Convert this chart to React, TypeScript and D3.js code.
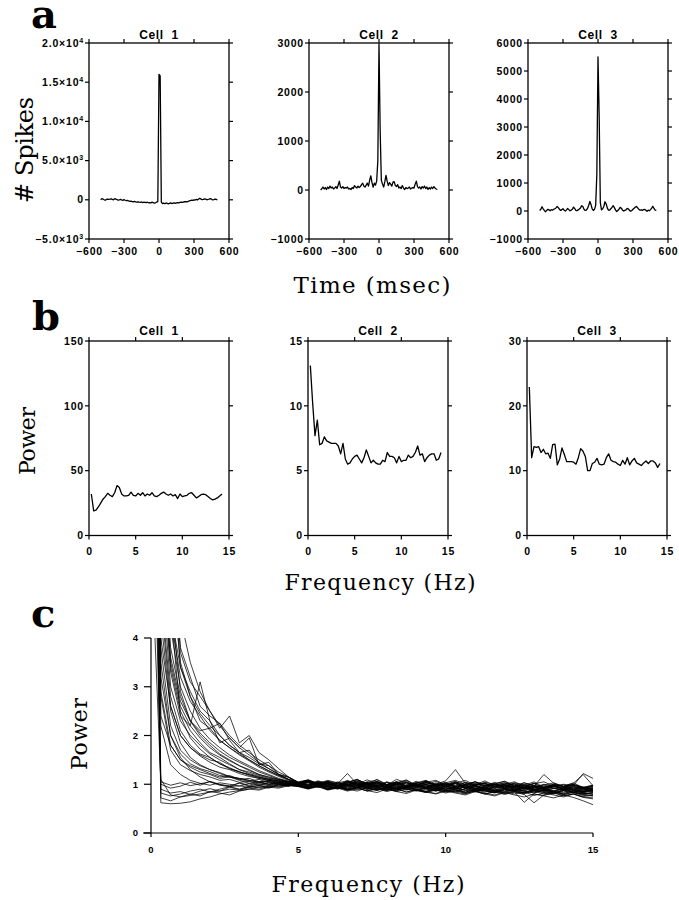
import React from "react";
import * as d3 from "d3";

// ---------- DATA ----------
const TIME_MS = d3.range(-500, 501, 10);
const CELL_NAMES = ["Cell 1", "Cell 2", "Cell 3"];
const TIME_TICKS = [-600, -300, 0, 300, 600];
const FREQ_TICKS = [0, 5, 10, 15];

const CELL1_CCG = [
  0, 150, 100, 0, -50, 50, 100, 50, 80, 120,
  50, 0, 150, 80, 20, -50, 0, 60, -20, -80,
  20, -60, -120, -80, -150, -200, -160, -220, -250, -200,
  -260, -300, -250, -300, -320, -280, -350, -300, -330, -360,
  -310, -380, -350, -400, -300, -350, -420, -380, -300, -200,
  16000, 15800, -300, -480, -420, -500, -400, -450, -520, -460,
  -400, -480, -420, -380, -450, -400, -350, -380, -320, -300,
  -340, -280, -250, -220, -260, -200, -150, -100, -50, -80,
  0, -30, 50, -20, 100, 200, 80, 20, 60, 120,
  80, 0, 40, 100, 150, 80, -20, 30, 100, 60,
  0,
];
const CELL2_CCG = [
  0, 30, 60, 20, 50, 10, 60, 30, 80, 40,
  60, 20, 40, 70, 30, 100, 180, 60, 40, 70,
  30, 50, 40, 60, 20, 30, 10, 50, 30, 90,
  60, 40, 80, 50, 70, 110, 140, 80, 60, 100,
  140, 80, 200, 290, 150, 60, 140, 100, 180, 600,
  2980, 1200, 200, 120, 60, 170, 300, 180, 90, 150,
  120, 80, 160, 170, 90, 70, 110, 40, 60, 30,
  90, 40, 10, 50, 30, 40, 60, 20, 40, 50,
  40, 120, 180, 70, 40, 60, 20, 70, 40, 80,
  30, 60, 10, 50, 20, 60, 30, 70, 40, 20,
  10,
];
const CELL3_CCG = [
  20, 60, 150, 80, 20, -30, 20, 60, 40, 10,
  50, 30, 60, 80, 110, 160, 120, 60, 20, 50,
  80, 30, 0, 40, 90, 50, 10, 30, 60, 140,
  90, 20, 10, 40, 70, 110, 190, 160, 60, 20,
  30, 90, 200, 340, 230, 80, 20, 60, 200, 1300,
  5500, 3400, 300, 40, 80, 160, 330, 260, 100, 30,
  30, 80, 130, 190, 120, 40, -20, 20, 60, 130,
  100, 30, 0, 20, 40, 90, 80, 20, -10, 20,
  60, 100, 140, 160, 110, 60, 30, 40, 20, 50,
  60, 30, -10, 30, 10, 50, 100, 170, 90, 30,
  20,
];
const CELL1_CCG_TICKS = [-5000, 0, 5000, 10000, 15000, 20000];
const CELL2_CCG_TICKS = [-1000, 0, 1000, 2000, 3000];
const CELL3_CCG_TICKS = [-1000, 0, 1000, 2000, 3000, 4000, 5000, 6000];

const FREQ_B = d3.range(1, 58).map((k) => k * 0.25);
const CELL1_POWER = [
  32, 19, 19.5, 22, 25, 28, 30, 32.5, 31, 30,
  33, 38.5, 37, 32, 30.5, 30.5, 31, 33.5, 31, 30.5,
  32.5, 31, 33, 30.5, 32, 31, 33, 30.5, 30, 31,
  32.5, 33.5, 32, 31, 32, 30.5, 31.5, 28.5, 32, 30,
  30.5, 31, 32.5, 33, 31, 29, 30, 31.5, 32, 31.5,
  30, 28.5, 27.5, 28, 29, 30.5, 32,
];
const CELL2_POWER = [
  13.1, 10.2, 7.7, 8.9, 7.0, 7.1, 7.6, 7.3, 7.2, 7.1,
  7.1, 7.1, 6.9, 6.3, 7.1, 5.9, 5.5, 5.6, 5.9, 6.1,
  6.2, 5.9, 5.6, 6.0, 6.6, 6.1, 5.6, 5.8, 5.6, 5.5,
  5.5, 5.8, 5.7, 6.4, 6.1, 6.1, 6.0, 5.6, 6.1, 5.7,
  5.8, 5.8, 6.2, 6.0, 6.1, 6.4, 6.9, 6.2, 6.3, 5.7,
  6.0, 6.2, 6.3, 6.3, 5.8, 5.9, 6.4,
];
const CELL3_POWER = [
  22.9, 12.0, 13.7, 13.6, 13.7, 12.8, 13.3, 12.6, 12.7, 11.9,
  14.0, 14.1, 10.9, 11.8, 13.5, 12.5, 11.4, 11.4, 11.4, 11.3,
  11.0, 12.0, 13.4, 13.0, 12.2, 10.0, 10.0, 11.1, 11.3, 11.9,
  11.0, 10.9, 11.0, 12.0, 12.6, 11.6, 11.4, 11.3, 11.0, 10.8,
  11.6, 11.0, 12.0, 10.9, 11.5, 11.9, 11.2, 11.0, 10.8, 11.2,
  11.5, 11.1, 11.5, 11.5, 11.2, 10.5, 11.1,
];
const CELL1_POWER_TICKS = [0, 50, 100, 150];
const CELL2_POWER_TICKS = [0, 5, 10, 15];
const CELL3_POWER_TICKS = [0, 10, 20, 30];

const FREQ_C = d3.range(0, 46).map((k) => k / 3);
const POP_POWER_TICKS = [0, 1, 2, 3, 4];
const POP_SPECTRA = [
  [14,0.62,0.6,0.61,0.64,0.7,0.74,0.8,0.84,0.87,0.9,0.88,0.94,0.92,0.97,
   0.98,0.93,0.97,0.9,0.95,0.88,0.93,0.97,0.89,0.92,0.86,0.94,0.9,0.85,0.91,0.87,0.93,0.84,0.89,0.86,0.82,0.9,0.85,0.8,0.88,0.83,0.86,0.79,0.84,0.8,0.76],
  [22,0.72,0.66,0.74,0.8,0.76,0.85,0.82,0.78,0.86,0.9,0.95,0.92,0.99,0.96,
   1.02,0.96,1.04,0.97,0.92,1.0,0.95,1.03,0.93,0.98,0.91,0.96,1.02,0.94,0.89,0.97,0.93,0.99,0.9,0.95,0.88,0.96,0.92,0.87,0.94,0.9,0.86,0.93,0.88,0.84,0.9],
  [9,1.0,0.92,0.96,1.04,0.98,1.06,1.0,0.95,1.03,0.98,1.05,0.99,1.04,0.97,
   1.03,1.08,0.99,1.06,1.01,0.96,1.05,0.99,1.1,1.0,1.04,0.95,1.02,1.07,0.97,1.01,0.94,1.0,1.05,0.96,0.99,1.03,0.94,0.98,0.92,1.0,0.96,0.91,0.98,0.94,0.9],
  [26,2.9,1.8,1.5,1.38,1.3,1.22,1.15,1.18,1.1,1.06,1.1,1.03,1.05,1.0,
   0.99,0.94,1.0,0.95,0.91,0.97,0.93,0.99,0.9,0.95,0.88,0.94,0.97,0.9,0.86,0.93,0.89,0.95,0.87,0.91,0.85,0.92,0.88,0.83,0.9,0.86,0.82,0.89,0.84,0.8,0.83],
  [30,4.8,2.6,2.0,1.75,1.6,1.5,1.45,1.32,1.25,1.2,1.14,1.1,1.06,1.04,
   1.01,1.06,0.98,1.03,0.95,1.0,1.05,0.97,1.02,0.94,0.99,1.04,0.96,0.92,1.0,0.95,1.03,0.93,0.98,0.9,0.96,1.0,0.92,0.97,0.89,0.94,0.99,0.9,0.95,0.87,0.92],
  [18,3.2,2.0,1.55,1.3,1.15,1.05,0.98,0.95,0.97,0.93,0.98,0.95,0.99,0.97,
   0.96,1.0,0.93,0.97,0.91,0.95,0.99,0.92,0.88,0.94,0.9,0.96,0.87,0.92,0.95,0.89,0.85,0.91,0.94,0.87,0.83,0.9,0.86,0.92,0.84,0.88,0.82,0.87,0.91,0.83,0.86],
  [40,6.0,3.4,2.5,2.1,1.85,1.65,1.55,1.42,1.3,1.25,1.18,1.12,1.1,1.05,
   1.02,1.08,1.01,1.05,0.98,1.04,1.1,1.0,1.06,0.99,1.03,1.09,0.98,1.04,1.0,1.07,1.3,1.02,0.97,1.04,1.0,0.95,1.03,0.98,1.05,0.94,1.0,0.96,1.03,0.93,0.98],
  [40,8,4.6,2.4,2.2,3.1,2.3,1.85,1.95,1.75,1.95,1.4,1.45,1.2,1.15,
   1.04,0.98,1.05,1.0,0.95,1.02,1.07,0.97,1.03,0.93,1.0,1.06,0.96,1.02,0.94,0.99,1.04,0.93,0.98,1.02,0.92,0.97,1.01,0.91,0.96,0.89,0.95,0.99,0.9,0.94,0.88],
  [60,10,6,3.4,2.9,2.5,2.3,2.0,1.8,1.65,1.5,1.38,1.27,1.18,1.1,
   1.03,0.97,1.02,0.94,0.99,0.92,0.98,1.03,0.95,0.9,0.97,0.93,1.0,0.91,0.96,0.89,0.94,0.99,0.9,0.87,0.95,0.91,0.86,0.93,0.88,0.92,0.85,0.9,0.86,0.83,0.87],
  [35,5.5,3.0,2.3,2.0,1.8,1.62,1.5,1.4,1.3,1.22,1.16,1.1,1.07,1.03,
   0.97,0.92,0.96,0.89,0.94,0.9,0.86,0.93,0.88,0.91,0.85,0.9,0.87,0.83,0.89,0.84,0.88,0.82,0.86,0.8,0.85,0.81,0.84,0.79,0.62,0.78,0.83,0.77,0.8,0.75,0.78],
  [45,7,3.8,2.8,2.3,2.0,1.8,1.62,1.5,1.38,1.3,1.2,1.15,1.1,1.06,
   1.02,1.07,1.0,1.05,0.97,1.03,1.09,1.0,0.96,1.05,1.0,0.95,1.04,0.99,1.06,0.97,1.02,1.08,0.98,1.03,0.95,1.0,1.05,0.96,1.02,0.93,0.99,0.95,1.02,1.2,0.97],
  [24,3.8,2.2,1.7,1.5,1.38,1.3,1.22,1.15,1.12,1.08,1.04,1.06,1.01,0.98,
   0.95,0.9,0.95,0.88,0.92,0.86,0.91,0.87,0.83,0.9,0.85,0.81,0.88,0.84,0.8,0.86,0.82,0.78,0.85,0.8,0.76,0.83,0.78,0.74,0.8,0.76,0.72,0.78,0.73,0.66,0.58],
  [16,2.2,1.4,1.2,1.08,1.02,0.98,1.03,1.0,0.96,1.02,0.98,1.03,0.99,1.02,
   1.0,1.05,0.97,1.03,0.95,1.01,0.93,1.04,0.98,0.94,1.02,0.96,1.0,0.92,0.98,0.95,1.01,0.91,0.97,0.93,0.99,0.9,0.96,0.92,0.98,0.88,0.95,0.91,0.97,0.87,0.93],
  [55,8.5,4.4,3.2,2.7,2.4,2.1,1.9,1.75,1.6,1.48,1.35,1.25,1.16,1.08,
   1.01,1.06,0.99,0.94,1.03,0.96,1.01,0.93,1.0,0.95,0.9,0.98,0.94,1.0,0.91,0.96,0.92,0.88,0.95,0.91,0.87,0.94,0.9,0.86,0.93,0.89,0.85,0.92,0.88,0.84,0.9],
  [12,0.82,0.76,0.8,0.86,0.9,0.84,0.9,0.95,0.9,0.96,0.93,0.98,0.95,1.0,
   0.97,0.92,0.98,0.91,0.95,0.89,0.94,0.9,0.95,0.87,0.93,0.88,0.92,0.85,0.91,0.86,0.9,0.83,0.89,0.84,0.88,0.81,0.87,0.83,0.86,0.8,0.85,0.79,0.83,0.77,0.76],
  [70,12,6.5,3.8,3.2,2.6,2.4,2.25,2.0,1.8,1.65,1.5,1.38,1.25,1.15,
   1.04,1.08,1.0,1.06,1.01,1.22,1.0,1.04,1.09,0.99,1.05,0.97,1.03,1.08,0.98,1.02,0.95,1.04,0.99,1.07,0.96,1.01,0.94,1.03,0.97,0.93,1.0,0.95,0.99,0.92,0.96],
  [38,7.5,4.5,3.4,2.8,2.45,2.2,2.0,1.8,1.65,1.55,1.42,1.32,1.2,1.1,
   0.99,0.94,0.98,0.92,0.96,0.9,0.95,0.91,0.87,0.94,0.89,0.93,0.88,0.85,0.92,0.87,0.84,0.91,0.86,0.89,0.83,0.88,0.85,0.81,0.87,0.83,0.8,0.86,0.82,0.79,0.84],
  [28,4.0,2.6,2.0,1.75,1.58,1.45,1.35,1.3,1.22,1.16,1.12,1.08,1.04,1.02,
   1.0,1.05,0.98,1.04,0.96,1.08,1.0,0.95,1.05,0.99,0.93,1.03,0.97,1.07,0.95,1.0,1.06,0.94,1.01,0.97,1.04,0.92,0.99,0.95,1.02,0.9,0.97,0.93,1.0,0.91,0.95],
  [15,1.1,0.78,0.74,0.77,0.8,0.84,0.86,0.9,0.88,0.93,0.9,0.96,0.94,0.98,
   0.96,0.92,0.97,0.9,0.94,0.88,0.93,0.86,0.91,0.87,0.92,0.84,0.89,0.85,0.81,0.88,0.84,0.8,0.87,0.82,0.78,0.85,0.8,0.84,0.77,0.82,0.78,0.74,0.8,0.73,0.7],
  [32,5.0,2.8,2.1,1.8,1.62,1.55,1.42,1.32,1.26,1.18,1.12,1.08,1.06,1.02,
   0.98,0.93,0.99,0.95,0.9,0.97,0.92,1.0,0.94,0.89,0.96,0.91,0.95,0.88,0.93,0.9,0.96,0.87,0.92,0.89,0.85,0.93,0.88,0.94,0.86,0.91,0.87,0.83,0.9,0.85,0.87],
  [80,14,7,4.4,3.5,2.9,2.5,2.2,1.95,1.75,1.6,1.45,1.32,1.2,1.1,
   1.05,1.09,1.02,1.08,1.03,0.99,1.07,1.01,1.05,0.98,1.1,1.03,0.99,1.06,0.98,1.03,1.08,1.0,1.05,0.97,1.02,1.06,0.98,1.03,0.96,1.2,1.02,0.96,1.0,0.94,0.98],
  [20,2.8,1.7,1.4,1.28,1.2,1.15,1.08,1.1,1.04,1.06,1.0,1.03,0.98,1.0,
   0.96,0.91,0.96,0.89,0.94,0.88,0.93,0.86,0.91,0.85,0.9,0.84,0.89,0.83,0.88,0.82,0.87,0.81,0.86,0.8,0.85,0.79,0.84,0.63,0.8,0.77,0.82,0.76,0.8,0.74,0.72],
  [42,6.5,3.5,2.6,2.2,1.95,1.75,1.6,1.48,1.38,1.28,1.2,1.14,1.08,1.04,
   1.0,1.05,0.97,1.02,0.95,0.99,1.04,0.94,0.98,0.92,1.0,1.03,0.94,0.98,0.91,0.96,1.01,0.92,0.96,0.89,0.95,0.99,0.9,0.94,0.88,0.93,0.97,0.89,0.92,0.86,0.9],
  [65,11,5.5,3.5,2.8,2.3,2.15,1.9,1.75,1.62,1.5,1.38,1.28,1.18,1.1,
   1.02,0.97,1.04,0.96,1.0,1.06,0.97,1.01,0.94,1.04,0.98,0.93,1.01,0.95,0.99,1.04,0.94,0.98,0.91,0.96,1.01,0.92,0.97,0.9,0.95,0.99,0.91,0.95,0.88,0.93,0.9],
  [11,0.9,0.82,0.85,0.79,0.86,0.91,0.86,0.94,0.89,0.95,0.97,0.93,0.99,0.96,
   1.02,1.06,0.98,1.03,0.96,1.05,1.0,0.94,1.03,0.97,1.05,0.96,1.01,0.94,1.03,0.97,0.92,1.0,0.95,0.99,0.91,0.97,0.93,0.99,0.9,0.95,0.92,0.88,0.95,0.9,0.86],
  [26,3.5,2.0,1.62,1.42,1.32,1.26,1.18,1.15,1.1,1.12,1.05,1.08,1.03,1.01,
   0.98,1.03,0.95,1.0,0.93,0.98,1.02,0.92,0.97,0.93,0.99,0.9,0.95,0.92,0.87,0.94,0.89,0.95,0.86,0.91,0.88,0.84,0.9,0.86,0.82,0.89,0.85,0.81,0.87,0.82,0.79],
  [48,9,4.8,2.9,2.3,2.1,2.15,2.25,1.9,1.65,1.7,1.42,1.38,1.2,1.14,
   1.01,0.95,1.02,0.97,1.05,0.98,0.93,1.01,0.96,1.04,0.95,0.91,0.99,0.94,1.01,0.9,0.97,0.93,0.98,0.89,0.95,0.99,0.88,0.94,0.9,0.86,0.93,0.88,0.94,0.85,0.89],
  [90,16,6.5,3.7,3.1,2.8,2.5,2.15,2.4,1.85,2.0,1.65,1.5,1.32,1.15,
   1.03,1.09,1.01,1.06,0.98,1.04,1.1,1.0,1.05,0.98,1.02,1.08,0.97,1.03,1.0,0.95,1.05,0.98,1.02,0.94,1.0,1.06,0.96,1.0,0.93,0.98,1.03,0.95,0.99,0.92,0.97],
  [6,1.05,0.98,1.03,0.97,1.01,1.05,0.99,0.97,1.02,0.96,1.01,0.98,1.02,0.99,
   0.97,0.93,0.98,0.92,0.96,0.93,0.89,0.95,0.91,0.88,0.94,0.9,0.86,0.93,0.89,0.85,0.92,0.88,0.84,0.9,0.87,0.83,0.89,0.86,0.82,0.88,0.84,0.8,0.87,0.82,0.8],
  [34,5.8,3.3,2.4,1.95,1.72,1.55,1.42,1.34,1.25,1.2,1.14,1.1,1.07,1.03,
   1.04,1.0,1.07,1.02,0.97,1.05,1.0,1.09,1.02,0.98,1.05,1.0,0.96,1.04,1.08,0.99,1.03,0.96,1.05,1.0,0.97,1.03,0.98,0.94,1.01,1.05,0.96,1.0,0.97,1.22,1.12],
  [22,2.4,1.8,1.5,1.35,1.25,1.2,1.12,1.15,1.08,1.02,1.05,1.0,1.02,0.99,
   0.97,0.92,0.97,0.9,0.95,0.91,0.98,0.89,0.94,0.9,0.87,0.95,0.9,0.93,0.86,0.92,0.88,0.84,0.91,0.87,0.83,0.9,0.86,0.82,0.89,0.85,0.81,0.88,0.84,0.8,0.82],
  [50,7.8,4.2,3.0,2.5,2.15,1.92,1.75,1.6,1.48,1.38,1.28,1.2,1.12,1.06,
   1.02,0.97,1.04,0.98,1.03,1.07,0.96,1.01,1.05,0.96,1.02,0.94,0.99,1.04,0.95,1.0,0.96,0.92,0.99,1.02,0.93,0.98,0.95,0.91,0.97,0.93,0.96,0.9,0.95,0.92,0.89],
  [36,6.2,3.6,2.7,2.3,2.05,1.85,1.68,1.55,1.45,1.35,1.25,1.18,1.1,1.05,
   0.99,1.04,0.96,1.01,0.94,0.99,1.03,0.93,0.98,0.95,0.91,0.98,0.93,1.0,0.9,0.95,0.92,0.97,0.88,0.94,0.9,0.86,0.93,0.89,0.95,0.86,0.91,0.88,0.84,0.9,0.85],
  [28,4.4,2.5,1.85,1.55,1.4,1.3,1.24,1.16,1.12,1.08,1.04,1.06,1.02,0.98,
   1.03,0.98,1.06,1.0,0.95,1.03,0.97,1.05,0.99,0.94,1.02,0.97,1.06,0.98,0.93,1.01,0.96,1.04,0.97,0.92,1.0,0.95,1.02,0.93,0.98,0.91,0.97,0.93,0.99,0.9,0.94],
];

// ---------- STYLE ----------
const TICK_FONT = "'Liberation Sans', Arial, Helvetica, sans-serif";
const SERIF = "'DejaVu Serif', 'Liberation Serif', serif";
const PLOT_W = 140;
const PLOT_XS = [89, 309, 528];

const fmtPlain = (v: number) => (v < 0 ? "\u2212" + Math.abs(v) : String(v));
const fmtSci = (v: number) => {
  if (v === 0) return "0";
  const e = Math.floor(Math.log10(Math.abs(v)));
  const m = v / Math.pow(10, e);
  return (
    <>
      {(m < 0 ? "\u2212" : "") + Math.abs(m).toFixed(1) + "\u00d710"}
      <tspan dy={-4} fontSize={7}>{e}</tspan>
    </>
  );
};

type BoxProps = {
  x0: number; y0: number; w: number; h: number;
  xDomain: [number, number]; yDomain: [number, number];
  xTicks: number[]; yTicks: number[];
  yFmt: (v: number) => React.ReactNode;
  xLabelDy: number; title: string; titleY: number;
  xs: number[]; ys: number[];
};

function BoxPlot(p: BoxProps) {
  const x = d3.scaleLinear().domain(p.xDomain).range([p.x0, p.x0 + p.w]);
  const y = d3.scaleLinear().domain(p.yDomain).range([p.y0 + p.h, p.y0]);
  const line = d3.line<number>().x((_, i) => x(p.xs[i])).y((d) => y(d));
  const L = 4;
  const x1 = p.x0 + p.w;
  const yb = p.y0 + p.h;
  return (
    <g>
      <rect x={p.x0} y={p.y0} width={p.w} height={p.h} fill="none" stroke="#000" strokeWidth={1.3} />
      {p.xTicks.map((t) => (
        <g key={"xt" + t}>
          <line x1={x(t)} x2={x(t)} y1={yb} y2={yb + L} stroke="#000" strokeWidth={1.2} />
          <line x1={x(t)} x2={x(t)} y1={p.y0} y2={p.y0 - L} stroke="#000" strokeWidth={1.2} />
          <text x={x(t) + 0.5} y={yb + p.xLabelDy} textAnchor="middle" fontFamily={TICK_FONT}
            fontWeight="bold" fontSize={10.5} letterSpacing={0.8}>{fmtPlain(t)}</text>
        </g>
      ))}
      {p.yTicks.map((t) => (
        <g key={"yt" + t}>
          <line x1={p.x0} x2={p.x0 - L} y1={y(t)} y2={y(t)} stroke="#000" strokeWidth={1.2} />
          <line x1={x1} x2={x1 + L} y1={y(t)} y2={y(t)} stroke="#000" strokeWidth={1.2} />
          <text x={p.x0 - 5} y={y(t)} dy="0.35em" textAnchor="end" fontFamily={TICK_FONT}
            fontWeight="bold" fontSize={10.5} letterSpacing={0.8}>{p.yFmt(t)}</text>
        </g>
      ))}
      <text x={p.x0 + p.w / 2} y={p.titleY} textAnchor="middle" fontFamily={TICK_FONT}
        fontWeight="bold" fontSize={12} letterSpacing={0.6} style={{ whiteSpace: "pre" }}>{p.title.replace(" ", "  ")}</text>
      <path d={line(p.ys) || ""} fill="none" stroke="#000" strokeWidth={1.3} strokeLinejoin="round" />
    </g>
  );
}

function PanelC() {
  const x0 = 151, x1 = 593, y0 = 638, y1 = 833;
  const x = d3.scaleLinear().domain([0, 15]).range([x0, x1]);
  const y = d3.scaleLinear().domain([0, 4]).range([y1, y0]);
  const line = d3.line<number>().x((_, i) => x(FREQ_C[i])).y((d) => y(d));
  return (
    <g>
      <defs>
        <clipPath id="clipC">
          <rect x={x0} y={y0} width={x1 - x0 + 2} height={y1 - y0} />
        </clipPath>
      </defs>
      <g clipPath="url(#clipC)">
        {POP_SPECTRA.map((s, i) => (
          <path key={i} d={line(s) || ""} fill="none" stroke="#000" strokeWidth={0.75} strokeLinejoin="round" />
        ))}
      </g>
      <line x1={x0} x2={x0} y1={y0} y2={y1} stroke="#000" strokeWidth={1.2} />
      <line x1={x0 - 8} x2={x1} y1={y1} y2={y1} stroke="#000" strokeWidth={1.2} />
      {POP_POWER_TICKS.map((t) => (
        <g key={"cy" + t}>
          <line x1={x0 - 7} x2={x0} y1={y(t)} y2={y(t)} stroke="#000" strokeWidth={1.2} />
          <text x={x0 - 13} y={y(t)} dy="0.35em" textAnchor="end" fontFamily={TICK_FONT}
            fontWeight="bold" fontSize={9.5}>{t}</text>
        </g>
      ))}
      {FREQ_TICKS.map((t) => (
        <g key={"cx" + t}>
          <line x1={x(t)} x2={x(t)} y1={y1} y2={y1 + 4} stroke="#000" strokeWidth={1.2} />
          <text x={x(t)} y={y1 + 20} textAnchor="middle" fontFamily={TICK_FONT}
            fontWeight="bold" fontSize={9.5}>{t}</text>
        </g>
      ))}
    </g>
  );
}

export default function App() {
  const ccg = [CELL1_CCG, CELL2_CCG, CELL3_CCG];
  const ccgTicks = [CELL1_CCG_TICKS, CELL2_CCG_TICKS, CELL3_CCG_TICKS];
  const ccgDomains: [number, number][] = [[-5000, 20000], [-1000, 3000], [-1000, 6000]];
  const pow = [CELL1_POWER, CELL2_POWER, CELL3_POWER];
  const powTicks = [CELL1_POWER_TICKS, CELL2_POWER_TICKS, CELL3_POWER_TICKS];
  const powDomains: [number, number][] = [[0, 150], [0, 15], [0, 30]];
  return (
    <svg width={679} height={900} style={{ position: "absolute", left: 0, top: 0, background: "#fff" }}>
      {/* panel letters */}
      <text x={31} y={28} fontFamily={SERIF} fontWeight="bold" fontSize={40}>a</text>
      <text x={32} y={330} fontFamily={SERIF} fontWeight="bold" fontSize={40}>b</text>
      <text x={31} y={627} fontFamily={SERIF} fontWeight="bold" fontSize={40}>c</text>

      {/* panel a */}
      {PLOT_XS.map((x0, i) => (
        <BoxPlot key={"a" + i} x0={x0} y0={43} w={PLOT_W} h={196} xDomain={[-600, 600]} yDomain={ccgDomains[i]}
          xTicks={TIME_TICKS} yTicks={ccgTicks[i]} yFmt={i === 0 ? fmtSci : fmtPlain} xLabelDy={16}
          title={CELL_NAMES[i]} titleY={38.5} xs={TIME_MS} ys={ccg[i]} />
      ))}
      <text transform="translate(33,150) rotate(-90)" textAnchor="middle" fontFamily={SERIF} fontSize={24}
        textLength={106} lengthAdjust="spacing">{"# Spikes"}</text>
      <text x={372} y={293} textAnchor="middle" fontFamily={SERIF} fontSize={23}
        textLength={157} lengthAdjust="spacing">Time (msec)</text>

      {/* panel b */}
      {PLOT_XS.map((x0, i) => (
        <BoxPlot key={"b" + i} x0={x0 - (i === 0 ? 0 : 1)} y0={341} w={PLOT_W} h={194.5} xDomain={[0, 15]} yDomain={powDomains[i]}
          xTicks={FREQ_TICKS} yTicks={powTicks[i]} yFmt={fmtPlain} xLabelDy={19}
          title={CELL_NAMES[i]} titleY={335} xs={FREQ_B} ys={pow[i]} />
      ))}
      <text transform="translate(35,441) rotate(-90)" textAnchor="middle" fontFamily={SERIF} fontSize={22}
        textLength={68} lengthAdjust="spacing">Power</text>
      <text x={380} y={590} textAnchor="middle" fontFamily={SERIF} fontSize={22}
        textLength={191} lengthAdjust="spacing">Frequency (Hz)</text>

      {/* panel c */}
      <PanelC />
      <text transform="translate(87,734) rotate(-90)" textAnchor="middle" fontFamily={SERIF} fontSize={22}
        textLength={72} lengthAdjust="spacing">Power</text>
      <text x={368} y={892} textAnchor="middle" fontFamily={SERIF} fontSize={22}
        textLength={193} lengthAdjust="spacing">Frequency (Hz)</text>
    </svg>
  );
}
